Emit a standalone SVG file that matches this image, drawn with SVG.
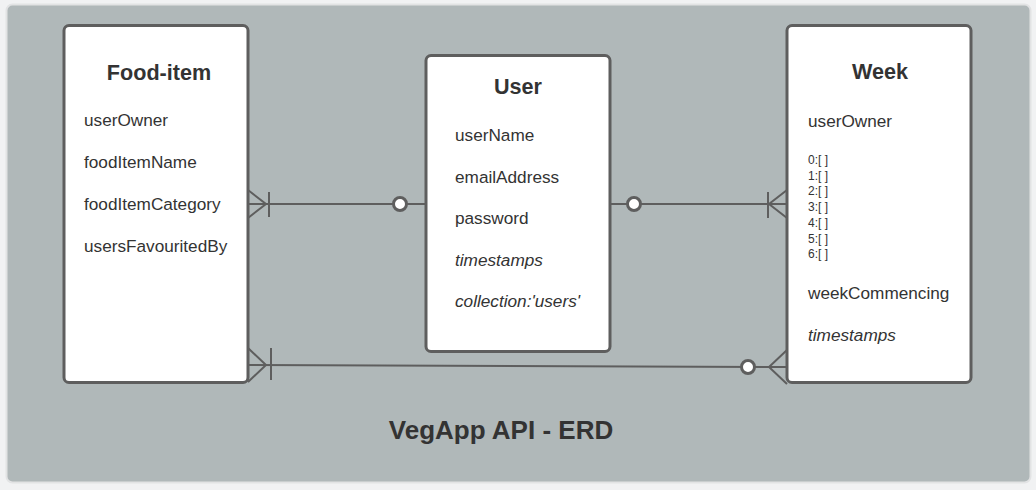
<svg xmlns="http://www.w3.org/2000/svg" width="1036" height="490" viewBox="0 0 1036 490">
<style>
.ent{fill:#ffffff;stroke:#5e5e5e;stroke-width:3}
.t{font-family:"Liberation Sans",Arial,sans-serif;fill:#333333}
.h{font-size:21.6px;font-weight:bold;text-anchor:middle}
.a{font-size:17.2px}
.i{font-style:italic}
.s{font-size:12px}
.c{fill:none;stroke:#5e5e5e;stroke-width:2}
.o{fill:#ffffff;stroke:#5e5e5e;stroke-width:3}
</style>
<rect x="0" y="0" width="1036" height="490" fill="#f1f2f3"/>
<rect x="6.5" y="4.5" width="1024" height="478" rx="6" fill="#b0b8b9" stroke="#e2e3e4" stroke-width="2"/>
<g id="connectors">
<path class="c" d="M248 204 H426"/>
<path class="c" d="M248 190 L266 204 L248 218 M269 192 V217"/>
<circle class="o" cx="400" cy="204" r="6.5"/>
<path class="c" d="M610 204 H787"/>
<path class="c" d="M787 190 L769 204 L787 218 M768 192 V218"/>
<circle class="o" cx="634" cy="204" r="6.5"/>
<path class="c" d="M248 365 L787 367"/>
<path class="c" d="M248 348 L266 365 L248 382 M271 348 V380"/>
<path class="c" d="M787 350 L769 367 L787 384"/>
<circle class="o" cx="748" cy="367" r="6.5"/>
</g>
<g id="food-item">
<rect class="ent" x="64" y="25.5" width="184" height="357" rx="5"/>
<text class="t h" x="159" y="80">Food-item</text>
<text class="t a" x="84" y="126">userOwner</text>
<text class="t a" x="84" y="168">foodItemName</text>
<text class="t a" x="84" y="210">foodItemCategory</text>
<text class="t a" x="84" y="252">usersFavouritedBy</text>
</g>
<g id="user">
<rect class="ent" x="426" y="55.5" width="184" height="296" rx="5"/>
<text class="t h" x="518" y="94">User</text>
<text class="t a" x="455" y="141">userName</text>
<text class="t a" x="455" y="183">emailAddress</text>
<text class="t a" x="455" y="224">password</text>
<text class="t a i" x="455" y="266">timestamps</text>
<text class="t a i" x="455" y="307">collection:'users'</text>
</g>
<g id="week">
<rect class="ent" x="787" y="25.5" width="184" height="357" rx="5"/>
<text class="t h" x="880" y="79">Week</text>
<text class="t a" x="808" y="127">userOwner</text>
<text class="t s" x="808" y="164">0:[ ]</text>
<text class="t s" x="808" y="180">1:[ ]</text>
<text class="t s" x="808" y="195">2:[ ]</text>
<text class="t s" x="808" y="211">3:[ ]</text>
<text class="t s" x="808" y="227">4:[ ]</text>
<text class="t s" x="808" y="243">5:[ ]</text>
<text class="t s" x="808" y="258">6:[ ]</text>
<text class="t a" x="808" y="299">weekCommencing</text>
<text class="t a i" x="808" y="341">timestamps</text>
</g>
<text class="t" x="501" y="439" font-size="26" font-weight="bold" text-anchor="middle">VegApp API - ERD</text>
</svg>
